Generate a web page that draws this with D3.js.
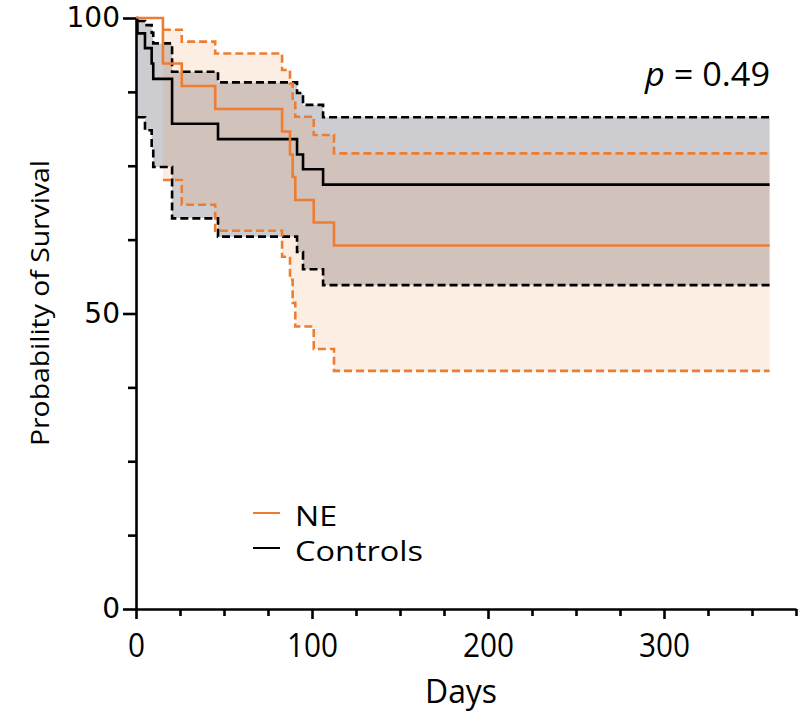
<!DOCTYPE html>
<html>
<head>
<meta charset="utf-8">
<script src="https://cdn.jsdelivr.net/npm/d3@7"></script>
<style>
body { margin: 0; background: #fff; }
</style>
</head>
<body>
<svg id="chart"></svg>
<script>
// Kaplan-Meier steps (days, % surviving)
const neDays = [0, 15.3, 26, 45, 83, 87.5, 89, 90.5, 101, 112.5];
const neSurv = [100, 92.3, 88.5, 84.6, 80.8, 76.9, 73.1, 69.2, 65.4, 61.5];
const neUpper = [100, 98.0, 96.0, 94.0, 91.2, 88.9, 86.1, 83.3, 80.2, 77.1];
const neLower = [100, 72.6, 68.4, 64.0, 59.6, 55.7, 51.8, 47.8, 44.0, 40.3];

const ctrlDays = [0, 0.8, 5.1, 8.9, 9.8, 20.5, 46.6, 91.5, 94.9, 106.3];
const ctrlSurv = [100, 97.4, 94.9, 92.3, 89.7, 82.1, 79.5, 76.9, 74.4, 71.8];
const ctrlUpper = [100, 99.5, 98.8, 97.5, 95.7, 90.9, 89.1, 87.3, 85.3, 83.2];
const ctrlLower = [100, 83.2, 81.0, 78.0, 74.8, 66.1, 63.0, 60.4, 57.5, 54.8];

const lastDay = 360;
const xTicks = [0, 100, 200, 300];
const yTicks = [0, 50, 100];

const width = 803;
const height = 714;
const svg = d3.select("#chart")
    .attr("width", width)
    .attr("height", height);

const x = d3.scaleLinear().domain([0, 375]).range([136, 796]);
const y = d3.scaleLinear().domain([0, 100]).range([609, 18]);

// step points, optionally dropping the leading 100% point (CI lines start at first event)
function steps(days, vals, from) {
    const pts = days.map((d, i) => ({ t: d, v: vals[i] })).slice(from);
    pts.push({ t: lastDay, v: vals[vals.length - 1] });
    return pts;
}
function band(days, lo, hi) {
    const pts = days.map((d, i) => ({ t: d, lo: lo[i], hi: hi[i] })).slice(1);
    pts.push({ t: lastDay, lo: lo[lo.length - 1], hi: hi[hi.length - 1] });
    return pts;
}

const line = d3.line()
    .curve(d3.curveStepAfter)
    .x((d) => x(d.t))
    .y((d) => y(d.v));
const area = d3.area()
    .curve(d3.curveStepAfter)
    .x((d) => x(d.t))
    .y0((d) => y(d.lo))
    .y1((d) => y(d.hi));

const orange = "#ed7d31";

// bands
svg.append("path")
    .datum(band(ctrlDays, ctrlLower, ctrlUpper))
    .attr("d", area)
    .attr("fill", "#cdcdd1");
svg.append("path")
    .datum(band(neDays, neLower, neUpper))
    .attr("d", area)
    .attr("fill", orange)
    .attr("fill-opacity", 0.13);

const curves = [
    { data: steps(ctrlDays, ctrlUpper, 1), color: "black", dash: "8,4" },
    { data: steps(ctrlDays, ctrlLower, 1), color: "black", dash: "8,4" },
    { data: steps(ctrlDays, ctrlSurv, 0), color: "black", dash: null },
    { data: steps(neDays, neUpper, 1), color: orange, dash: "8,4" },
    { data: steps(neDays, neLower, 1), color: orange, dash: "8,4" },
    { data: steps(neDays, neSurv, 0), color: orange, dash: null }
];
svg.selectAll("path.km")
    .data(curves)
    .join("path")
    .attr("class", "km")
    .attr("d", (d) => line(d.data))
    .attr("fill", "none")
    .attr("stroke", (d) => d.color)
    .attr("stroke-width", 2.6)
    .attr("stroke-dasharray", (d) => d.dash);

// axes
const yAxis = svg.append("g")
    .attr("transform", "translate(136,0)")
    .call(d3.axisLeft(y).tickValues(yTicks).tickSize(13).tickSizeOuter(0).tickPadding(3));
svg.append("g")
    .attr("transform", "translate(136,0)")
    .call(d3.axisLeft(y).tickValues([12.5, 25, 37.5, 62.5, 75, 87.5]).tickSize(8).tickFormat(""))
    .call((g) => g.select(".domain").remove());
const xAxis = svg.append("g")
    .attr("transform", "translate(0,609)")
    .call(d3.axisBottom(x).tickValues(xTicks).tickSize(10).tickSizeOuter(0));
svg.append("g")
    .attr("transform", "translate(0,609)")
    .call(d3.axisBottom(x).tickValues(d3.range(25, 376, 25).filter((v) => v % 100 !== 0)).tickSize(7).tickFormat(""))
    .call((g) => g.select(".domain").remove());

svg.selectAll(".domain, .tick line")
    .attr("stroke", "black")
    .attr("stroke-width", 2.6);

yAxis.selectAll("text")
    .attr("font-family", "DejaVu Sans")
    .attr("font-size", 28)
    .attr("fill", "black");
xAxis.selectAll("text")
    .attr("font-family", "Open Sans")
    .attr("font-size", 33)
    .attr("fill", "black")
    .attr("dy", null)
    .attr("y", 48)
    .attr("textLength", (d) => String(d).length * 17)
    .attr("lengthAdjust", "spacingAndGlyphs");

// titles
svg.append("text")
    .attr("x", 461)
    .attr("y", 703)
    .attr("text-anchor", "middle")
    .attr("font-family", "Open Sans")
    .attr("font-size", 33)
    .attr("textLength", 72)
    .attr("lengthAdjust", "spacingAndGlyphs")
    .text("Days");
svg.append("text")
    .attr("transform", "translate(49,303) rotate(-90)")
    .attr("text-anchor", "middle")
    .attr("font-family", "Open Sans")
    .attr("font-size", 26)
    .attr("textLength", 286)
    .attr("lengthAdjust", "spacingAndGlyphs")
    .text("Probability of Survival");

const p = svg.append("text")
    .attr("x", 645)
    .attr("y", 86)
    .attr("font-family", "Open Sans")
    .attr("font-size", 33)
    .attr("textLength", 125)
    .attr("lengthAdjust", "spacingAndGlyphs");
p.append("tspan").attr("font-style", "italic").text("p");
p.append("tspan").text(" = 0.49");

// legend
const legend = [
    { name: "NE", color: orange, y: 513, w: 42 },
    { name: "Controls", color: "black", y: 548, w: 128 }
];
const lg = svg.selectAll("g.legend")
    .data(legend)
    .join("g")
    .attr("class", "legend");
lg.append("line")
    .attr("x1", 253).attr("x2", 280)
    .attr("y1", (d) => d.y).attr("y2", (d) => d.y)
    .attr("stroke", (d) => d.color)
    .attr("stroke-width", 2);
lg.append("text")
    .attr("x", 295)
    .attr("y", (d) => d.y + 13)
    .attr("font-family", "Open Sans")
    .attr("font-size", 27)
    .attr("textLength", (d) => d.w)
    .attr("lengthAdjust", "spacingAndGlyphs")
    .text((d) => d.name);
</script>
</body>
</html>
